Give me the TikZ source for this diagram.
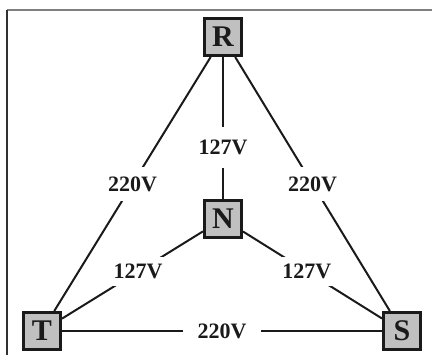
\documentclass[tikz,border=0pt]{standalone}
\usepackage{fontspec}
\setmainfont{Liberation Serif}
\definecolor{boxgray}{HTML}{C0C0C0}
\definecolor{ink}{HTML}{1A1A1A}
\begin{document}
\begin{tikzpicture}[x=1pt,y=-1pt,
  phase/.style={draw=ink, line width=3pt, fill=boxgray, minimum size=37pt,
    inner sep=0pt, font=\fontsize{30}{30}\selectfont\bfseries, text=ink},
  wire/.style={draw=ink, line width=2pt},
  volt/.style={fill=white, inner sep=1pt, font=\fontsize{22}{22}\selectfont\bfseries, text=ink}]
  \useasboundingbox (0,0) rectangle (432,355);
  % outer frame (top and left edges only)
  \draw[line width=1.5pt, gray] (7,10) -- (432,10);
  \draw[line width=1.5pt, ink!90] (7,10) -- (7,355);
  % phase and neutral terminals
  \node[phase] (R) at (223,37) {R};
  \node[phase] (N) at (223,219) {N};
  \node[phase] (T) at (42,331) {T};
  \node[phase] (S) at (402,331) {S};
  % line and phase voltages
  \draw[wire] (R) -- node[volt, pos=0.5, inner ysep=10pt] {220V} (T);
  \draw[wire] (R) -- node[volt, pos=0.5, inner ysep=10pt] {220V} (S);
  \draw[wire] (R) -- node[volt, pos=0.64, inner ysep=13pt] {127V} (N);
  \draw[wire] (N) -- node[volt, pos=0.46, inner ysep=7pt] {127V} (T);
  \draw[wire] (N) -- node[volt, pos=0.46, inner ysep=7pt] {127V} (S);
  \draw[wire] (T) -- node[volt, pos=0.5, inner xsep=15pt] {220V} (S);
\end{tikzpicture}
\end{document}
